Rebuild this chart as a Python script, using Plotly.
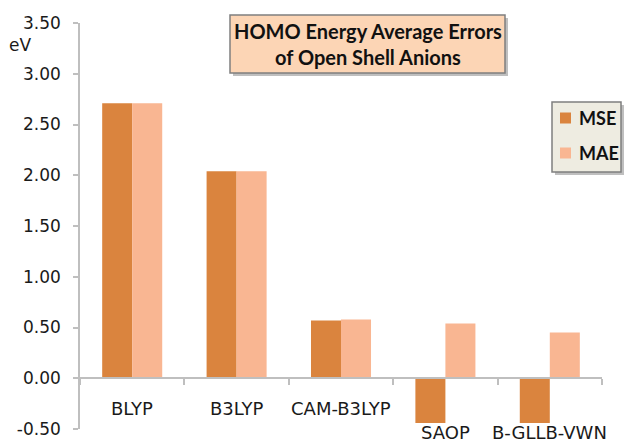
import plotly.graph_objects as go

categories = ["BLYP", "B3LYP", "CAM-B3LYP", "SAOP", "B-GLLB-VWN"]
mse = [2.71, 2.04, 0.57, -0.44, -0.44]
mae = [2.71, 2.04, 0.58, 0.54, 0.45]
tick_vals = [-0.5, 0.0, 0.5, 1.0, 1.5, 2.0, 2.5, 3.0, 3.5]
tick_text = [f"{v:.2f}" for v in tick_vals]
title_text = "HOMO Energy Average Errors<br>of Open Shell Anions"

MSE_COLOR = "#DA843E"
MAE_COLOR = "#F9B692"
AXIS_COLOR = "#BFBFBF"
FONT = "DejaVu Sans"

# plot area in pixels
L, R, T, B = 80, 23, 23, 15
W, H = 625, 444
pw, ph = W - L - R, H - T - B
ymin, ymax = -0.5, 3.5

def px(x):
    return (x - L) / pw

def py(y):
    return (H - B - y) / ph

def val_to_paper(v):
    return (v - ymin) / (ymax - ymin)

fig = go.Figure()
fig.add_trace(go.Bar(name="MSE", x=categories, y=mse, marker=dict(color=MSE_COLOR, line=dict(width=0))))
fig.add_trace(go.Bar(name="MAE", x=categories, y=mae, marker=dict(color=MAE_COLOR, line=dict(width=0))))

fig.update_layout(
    width=W, height=H, autosize=False,
    margin=dict(l=L, r=R, t=T, b=B, pad=0, autoexpand=False),
    paper_bgcolor="white", plot_bgcolor="white",
    barmode="group", bargap=0.425, bargroupgap=0,
    showlegend=False,
    font=dict(family=FONT, size=17, color="#1a1a1a"),
    xaxis=dict(
        type="category", anchor="free", position=val_to_paper(0), automargin=False,
        showline=True, linecolor=AXIS_COLOR, linewidth=1.5,
        ticks="outside", ticklen=6, tickcolor=AXIS_COLOR, tickwidth=1.5,
        tickson="boundaries", showticklabels=False, showgrid=False,
        zeroline=False, range=[-0.5, len(categories) - 0.5],
    ),
    yaxis=dict(
        range=[ymin, ymax], tickvals=tick_vals, ticktext=tick_text, automargin=False,
        showline=True, linecolor=AXIS_COLOR, linewidth=1.5,
        ticks="outside", ticklen=5, tickcolor=AXIS_COLOR, tickwidth=1.5,
        showgrid=False, zeroline=False, ticklabelstandoff=9,
        tickfont=dict(family=FONT, size=17, color="#1a1a1a"),
    ),
)

# category labels: below the axis for positive MSE, at the bottom edge below negative bars
for c, m in zip(categories, mse):
    if m >= 0:
        fig.add_annotation(x=c, y=val_to_paper(-0.3), xref="x", yref="paper", text=c, showarrow=False,
                           font=dict(family=FONT, size=18, color="#1a1a1a"),
                           xanchor="center", yanchor="middle")
    else:
        fig.add_annotation(x=c, y=py(H), xref="x", yref="paper", text=c, showarrow=False,
                           font=dict(family=FONT, size=18, color="#1a1a1a"), borderpad=0,
                           xanchor="center", yanchor="bottom")

# axis unit
fig.add_annotation(x=px(20), y=py(45), xref="paper", yref="paper", text="eV", showarrow=False,
                   font=dict(family=FONT, size=17, color="#1a1a1a"), xanchor="center", yanchor="middle")

# title box with shadow
bx0, bx1, by0, by1 = 230, 505, 15, 73
fig.add_shape(type="rect", xref="paper", yref="paper",
              x0=px(bx0 + 3), x1=px(bx1 + 3), y0=py(by1 + 3), y1=py(by0 + 3),
              fillcolor="rgba(0,0,0,0.25)", line=dict(width=0), layer="above")
fig.add_shape(type="rect", xref="paper", yref="paper",
              x0=px(bx0), x1=px(bx1), y0=py(by1), y1=py(by0),
              fillcolor="#FCD5B5", line=dict(color="#7F7F7F", width=1.5), layer="above")
fig.add_annotation(x=px((bx0 + bx1) / 2), y=py((by0 + by1) / 2), xref="paper", yref="paper",
                   text="<b>" + title_text + "</b>", showarrow=False, align="center",
                   font=dict(family="Lato", size=20, color="#111111"),
                   xanchor="center", yanchor="middle")

# legend box with shadow
lx0, lx1, ly0, ly1 = 552, 621, 102, 172
fig.add_shape(type="rect", xref="paper", yref="paper",
              x0=px(lx0 + 3), x1=px(lx1 + 3), y0=py(ly1 + 3), y1=py(ly0 + 3),
              fillcolor="rgba(0,0,0,0.25)", line=dict(width=0), layer="above")
fig.add_shape(type="rect", xref="paper", yref="paper",
              x0=px(lx0), x1=px(lx1), y0=py(ly1), y1=py(ly0),
              fillcolor="#EEECE1", line=dict(color="#7F7F7F", width=1.5), layer="above")
for i, (name, col) in enumerate([("MSE", MSE_COLOR), ("MAE", MAE_COLOR)]):
    cy = 118 + 35 * i
    fig.add_shape(type="rect", xref="paper", yref="paper",
                  x0=px(560), x1=px(571), y0=py(cy + 5.5), y1=py(cy - 5.5),
                  fillcolor=col, line=dict(width=0), layer="above")
    fig.add_annotation(x=px(577), y=py(cy), xref="paper", yref="paper",
                       text="<b>" + name + "</b>", showarrow=False,
                       font=dict(family="Lato", size=18, color="#111111"),
                       xanchor="left", yanchor="middle")

fig.write_html("out.html",
               config={"displayModeBar": False, "responsive": False},
               post_script="document.body.style.margin='0px';document.body.style.overflow='hidden';")
